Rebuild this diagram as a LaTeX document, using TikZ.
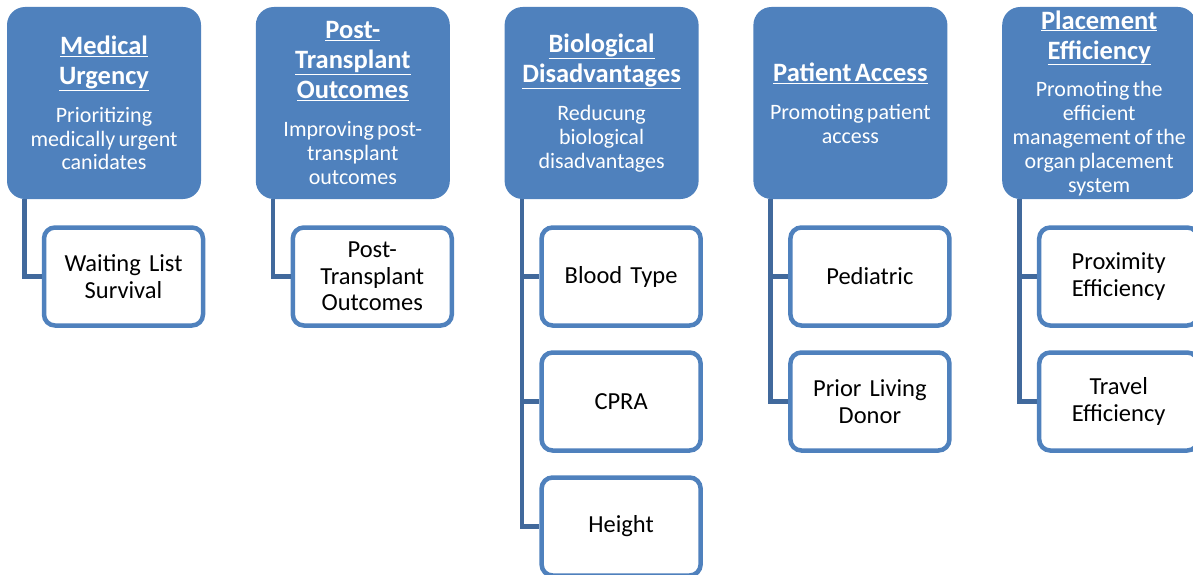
\documentclass[tikz,border=0pt]{standalone}
\usepackage{fontspec}
\setmainfont{Carlito}
\definecolor{hdrblue}{HTML}{4F81BD}
\definecolor{bordblue}{HTML}{4F81BD}
\definecolor{connblue}{HTML}{41699C}
\tikzset{
  hdrbox/.style={fill=hdrblue, draw=none, rounded corners=18pt, minimum width=194pt, minimum height=192pt, inner sep=0pt, align=center, text width=194pt, text=white},
  childbox/.style={fill=white, draw=bordblue, line width=4.5pt, rounded corners=11pt, minimum width=159pt, minimum height=98pt, inner sep=0pt, align=center, text width=159pt, text=black, font=\fontsize{24.5}{26.5}\selectfont},
  conn/.style={draw=connblue, line width=4.5pt},
}
\newcommand\ttlfont{\fontsize{26.5}{30}\selectfont\bfseries}
\newcommand\subfont{\par\vspace{14pt}\fontsize{22}{23.8}\selectfont\mdseries}
\begin{document}
\begin{tikzpicture}[x=1pt,y=-1pt]
\useasboundingbox (0,0) rectangle (1193,575);
\clip (0,0) rectangle (1193,575);
% headers
\node[hdrbox] (h1) at (104,103) {\ttlfont \underline{Medical}\\\underline{Urgency}\subfont Prioritizing\\medically urgent\\canidates\par};
\node[hdrbox] (h2) at (352.8,103) {\ttlfont \underline{Post-}\\\underline{Transplant}\\\underline{Outcomes}\subfont Improving post-\\transplant\\outcomes\par};
\node[hdrbox] (h3) at (601.6,103) {\ttlfont \underline{Biological}\\\underline{Disadvantages}\subfont Reducung\\biological\\disadvantages\par};
\node[hdrbox] (h4) at (850.4,103) {\ttlfont \underline{Patient Access}\subfont Promoting patient\\access\par};
\node[hdrbox] (h5) at (1099.2,103) {\ttlfont \underline{Placement}\\\underline{Efficiency}\subfont Promoting the\\efficient\\management of the\\organ placement\\system\par};
% children
\node[childbox] (c11) at (123.5,276.5) {Waiting List\\Survival\par};
\node[childbox] (c21) at (372.3,276.5) {Post-\\Transplant\\Outcomes\par};
\node[childbox] (c31) at (621.1,276.5) {Blood Type\par};
\node[childbox] (c32) at (621.1,401.5) {CPRA\par};
\node[childbox] (c33) at (621.1,526.5) {Height\par};
\node[childbox] (c41) at (869.9,276.5) {Pediatric\par};
\node[childbox] (c42) at (869.9,401.5) {Prior Living\\Donor\par};
\node[childbox] (c51) at (1118.7,276.5) {Proximity\\Efficiency\par};
\node[childbox] (c52) at (1118.7,401.5) {Travel\\Efficiency\par};
% connectors
\draw[conn] ([xshift=17.5pt]h1.south west) |- (c11.west);
\draw[conn] ([xshift=17.5pt]h2.south west) |- (c21.west);
\draw[conn] ([xshift=17.5pt]h3.south west) |- (c33.west);
\draw[conn] ([xshift=17.5pt]h3.south west) |- (c32.west);
\draw[conn] ([xshift=17.5pt]h3.south west) |- (c31.west);
\draw[conn] ([xshift=17.5pt]h4.south west) |- (c42.west);
\draw[conn] ([xshift=17.5pt]h4.south west) |- (c41.west);
\draw[conn] ([xshift=17.5pt]h5.south west) |- (c52.west);
\draw[conn] ([xshift=17.5pt]h5.south west) |- (c51.west);
\end{tikzpicture}
\end{document}
